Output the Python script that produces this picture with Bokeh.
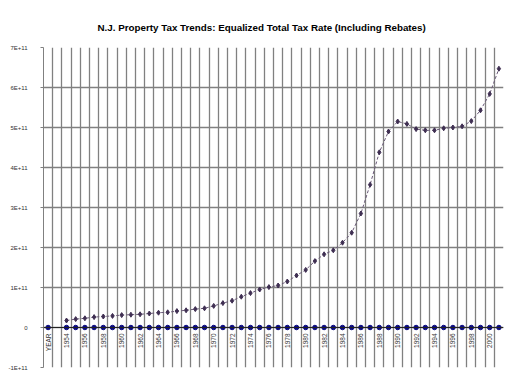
import math
from bokeh.plotting import figure
from bokeh.models import FixedTicker, Span, ColumnDataSource
from bokeh.embed import file_html
from bokeh.resources import INLINE
from bokeh.core.properties import value

# ---- data ----
categories = ["YEAR", "1953", "1954", "1955", "1956", "1957", "1958", "1959", "1960",
              "1961", "1962", "1963", "1964", "1965", "1966", "1967", "1968", "1969",
              "1970", "1971", "1972", "1973", "1974", "1975", "1976", "1977", "1978",
              "1979", "1980", "1981", "1982", "1983", "1984", "1985", "1986", "1987",
              "1988", "1989", "1990", "1991", "1992", "1993", "1994", "1995", "1996",
              "1997", "1998", "1999", "2000", "2001"]

tax_years = ["1954", "1955", "1956", "1957", "1958", "1959", "1960", "1961", "1962",
             "1963", "1964", "1965", "1966", "1967", "1968", "1969", "1970", "1971",
             "1972", "1973", "1974", "1975", "1976", "1977", "1978", "1979", "1980",
             "1981", "1982", "1983", "1984", "1985", "1986", "1987", "1988", "1989",
             "1990", "1991", "1992", "1993", "1994", "1995", "1996", "1997", "1998",
             "1999", "2000", "2001"]
tax_values = [1.75e10, 2.1e10, 2.3e10, 2.6e10, 2.75e10, 2.9e10, 3.1e10, 3.2e10, 3.3e10,
              3.5e10, 3.7e10, 3.8e10, 4.1e10, 4.3e10, 4.6e10, 4.8e10, 5.4e10, 6.1e10,
              6.7e10, 7.7e10, 8.6e10, 9.5e10, 1.01e11, 1.05e11, 1.15e11, 1.30e11, 1.44e11,
              1.66e11, 1.83e11, 1.93e11, 2.12e11, 2.37e11, 2.85e11, 3.57e11, 4.38e11, 4.90e11,
              5.15e11, 5.09e11, 4.96e11, 4.93e11, 4.93e11, 4.98e11, 5.00e11, 5.03e11, 5.16e11,
              5.43e11, 5.84e11, 6.47e11]

rebate_cats = ["YEAR"] + tax_years
rebate_values = [0] * len(rebate_cats)

y_ticks = [-1e11, 0, 1e11, 2e11, 3e11, 4e11, 5e11, 6e11, 7e11]
y_tick_labels = ["-1E+11", "0", "1E+11", "2E+11", "3E+11", "4E+11", "5E+11", "6E+11", "7E+11"]

label_cats = categories[::2]

FONT = "Liberation Sans"

# ---- positions from the category list ----
idx = {c: i for i, c in enumerate(categories)}

p = figure(width=504, height=376, output_backend="svg", toolbar_location=None,
           x_range=(-0.5, len(categories) - 0.5), y_range=(-1e11, 7e11),
           min_border_left=43, min_border_right=1, min_border_top=47, min_border_bottom=9)
p.outline_line_color = None
p.background_fill_color = "white"
p.border_fill_color = "white"

p.title.text = "N.J. Property Tax Trends: Equalized Total Tax Rate (Including Rebates)"
p.title.text_font = FONT
p.title.text_font_size = "9.8px"
p.title.text_font_style = "bold"
p.title.text_color = "#000000"
p.title.align = "left"
p.title.offset = 54
p.title.standoff = 30

# x axis hidden, labels drawn at y=0
p.xaxis.visible = False
p.xgrid.ticker = FixedTicker(ticks=[i - 0.5 for i in range(len(categories) + 1)])
p.xgrid.grid_line_color = "#808080"
p.xgrid.grid_line_width = 1.3

p.yaxis.ticker = FixedTicker(ticks=y_ticks)
p.yaxis.major_label_overrides = {t: l for t, l in zip(y_ticks, y_tick_labels)}
p.yaxis.major_label_text_font = FONT
p.yaxis.major_label_text_font_size = "6px"
p.yaxis.major_label_text_color = "#333333"
p.yaxis.axis_line_color = "#808080"
p.yaxis.major_tick_line_color = "#808080"
p.yaxis.major_tick_out = 3
p.yaxis.major_tick_in = 0
p.yaxis.minor_tick_line_color = None
p.yaxis.major_label_standoff = 13
p.ygrid.grid_line_color = "#808080"
p.ygrid.grid_line_width = 1.3

# zero axis line
p.add_layout(Span(location=0, dimension="width", line_color="#222222", line_width=1.2))

# category labels
lab_src = ColumnDataSource(dict(x=[idx[c] for c in label_cats], y=[0] * len(label_cats),
                                t=label_cats))
p.text(x="x", y="y", text="t", source=lab_src, angle=math.pi / 2,
       text_align="right", text_baseline="middle", y_offset=6,
       text_font=value(FONT), text_font_size="6.5px", text_color="#333333")

# main series
tax_src = ColumnDataSource(dict(x=[idx[c] for c in tax_years], y=tax_values))
p.line(x="x", y="y", source=tax_src, line_color="#6a5a78", line_width=1, line_dash="3 2")
p.scatter(x="x", y="y", source=tax_src, marker="diamond", size=5,
          fill_color="#3f2f52", line_color="#3f2f52")

# rebate series (zero)
reb_src = ColumnDataSource(dict(x=[idx[c] for c in rebate_cats], y=rebate_values))
p.scatter(x="x", y="y", source=reb_src, marker="circle", size=4.5,
          fill_color="#0a0a80", line_color="#0a0a80")

open("out.html", "w").write(file_html(p, INLINE))
